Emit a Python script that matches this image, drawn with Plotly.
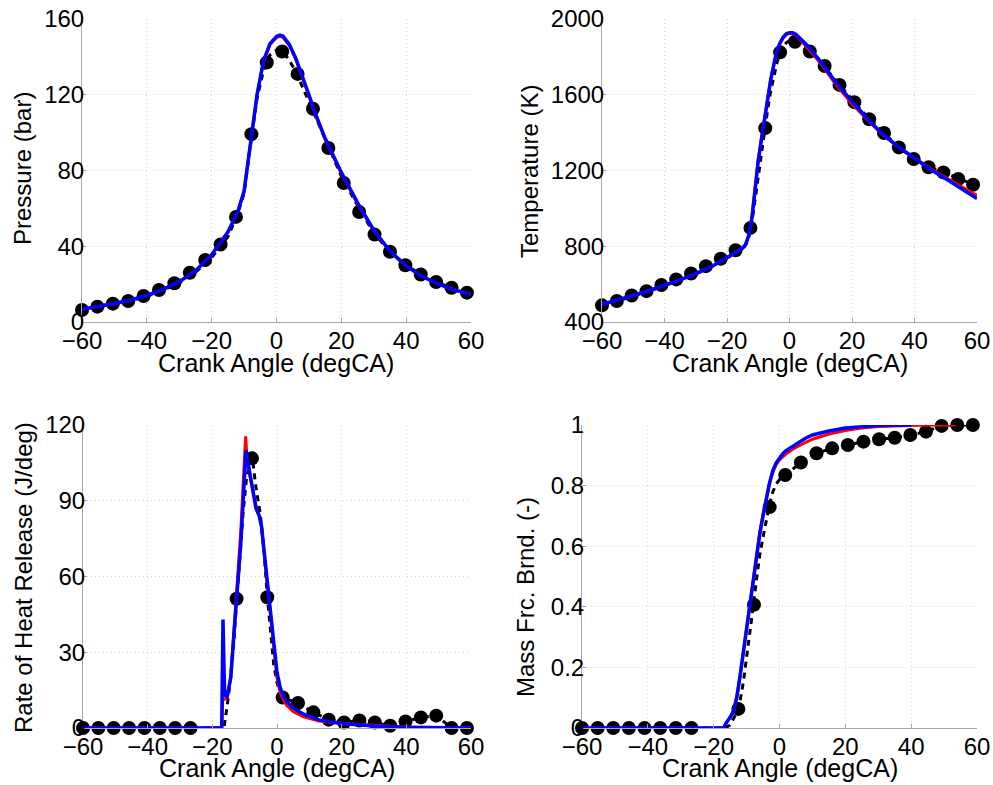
import plotly.graph_objects as go

# ---------------- data ----------------
# experimental sample points (markers)
exp_ca = [-60, -55.25, -50.5, -45.75, -41, -36.25, -31.5, -26.75, -22, -17.25, -12.5, -7.75, -3,
          1.75, 6.5, 11.25, 16, 20.75, 25.5, 30.25, 35, 39.75, 44.5, 49.25, 54, 58.75]
exp_p = [6.3, 8.1, 9.7, 11.1, 13.7, 16.9, 20.5, 26.0, 32.7, 40.9, 55.5, 99.2, 137.0,
         142.8, 131.0, 112.6, 91.9, 73.4, 58.1, 46.2, 37.1, 30.0, 25.1, 21.1, 18.1, 15.5]
exp_t = [488, 511, 540, 563, 595, 625, 656, 695, 734, 779, 897, 1424, 1824,
         1880, 1828, 1752, 1652, 1561, 1471, 1398, 1322, 1261, 1217, 1190, 1155, 1125]
exp_hrr = [0, 0, 0, 0, 0, 0, 0, 0, None, None, 51.2, 106.8, 51.8,
           12.1, 9.9, 6.2, 3.3, 2.2, 3.0, 2.2, 0.9, 2.6, 4.2, 4.9, 0, 0]
exp_mfb = [0, 0, 0, 0, 0, 0, 0, 0, None, None, 0.063, 0.407, 0.729,
           0.835, 0.876, 0.907, 0.923, 0.934, 0.945, 0.953, 0.958, 0.967, 0.978, 0.997, 1.0, 1.0]

# pressure curves
p_ca = [-60, -55, -50, -45, -40, -35, -30, -25, -20, -15, -12, -10, -8, -6, -4, -2, 0, 1, 2, 4, 6, 8,
        10, 12, 15, 20, 25, 30, 35, 40, 45, 50, 55, 60]
p_exp_line = [6.3, 8.0, 9.6, 11.3, 13.5, 16.8, 20.8, 26.2, 34.0, 45.0, 57, 68, 94, 118, 133, 141, 143.5,
              143.8, 143, 138, 132, 124, 116, 108, 96, 77, 61.5, 47, 37, 30, 24.6, 20.6, 17.6, 15.2]
p_red = [6.7, 8.1, 9.8, 11.6, 14.0, 17.2, 21.3, 27.0, 35.5, 47.5, 58, 69, 95, 120, 137.5, 146.5, 150.2,
         150.8, 150.3, 146, 138.5, 129.5, 119.5, 109.5, 96.5, 78.5, 62.5, 48.3, 37.4, 29.5, 24, 20, 16.9, 14.8]
p_blue = [6.7, 8.1, 9.8, 11.6, 14.0, 17.2, 21.3, 27.0, 35.5, 47.5, 58, 69, 95, 120, 138, 147, 150.8,
          151.5, 151, 146.5, 139, 130, 120, 110, 97, 79, 63, 48.5, 37.5, 29.5, 24, 20, 16.8, 14.6]

# temperature curves
t_ca = [-60, -55, -50, -45, -40, -35, -30, -25, -20, -15, -14, -13, -12, -11, -10, -9, -8, -7, -6, -5,
        -4, -3, -2, -1, 0, 1, 2, 4, 6, 8, 10, 15, 20, 25, 30, 35, 40, 45, 50, 55, 60]
t_exp_line = [486, 510, 537, 562, 592, 622, 654, 693, 738, 783, 810, 850, 930, 1050, 1180, 1300, 1400,
              1520, 1620, 1700, 1770, 1820, 1855, 1875, 1885, 1885, 1878, 1855, 1835, 1805, 1772,
              1672, 1575, 1480, 1402, 1322, 1260, 1214, 1186, 1150, 1118]
t_red = [493, 515, 540, 565, 593, 622, 655, 692, 740, 790, 810, 860, 960, 1130, 1260, 1370, 1475, 1575,
         1680, 1760, 1832, 1872, 1900, 1918, 1924, 1923, 1916, 1880, 1845, 1805, 1765, 1650, 1553,
         1465, 1385, 1322, 1266, 1212, 1163, 1115, 1068]
t_blue = [493, 515, 540, 565, 593, 622, 655, 692, 740, 790, 810, 860, 950, 1120, 1250, 1360, 1470, 1570,
          1680, 1760, 1835, 1875, 1905, 1922, 1928, 1928, 1920, 1888, 1855, 1815, 1775, 1660, 1563,
          1472, 1389, 1323, 1265, 1207, 1156, 1105, 1052]

# heat release rate curves
hrr_exp_ca = [-60, -16.4, -15.5, -14.5, -13.5, -12.5, -11.5, -10.5, -9.5, -8.5, -7.6, -6.6, -5.2, -4, -3,
              -2, -1, 0, 1, 1.75, 6.5, 11.25, 16, 20.75, 25.5, 30.25, 35, 39.75, 44.5, 49.25, 54, 58.75]
hrr_exp_line = [0, 0, 8, 18, 32, 51, 68, 85, 98, 105, 107, 96, 85, 70, 52, 38, 25, 18, 14, 12, 9.9, 6.2,
                3.3, 2.2, 3.0, 2.2, 0.9, 2.6, 4.2, 4.9, 0, 0]
hrr_red_ca = [-60, -17.1, -16.8, -15.5, -14.3, -13.3, -12.3, -11.2, -10.2, -9.7, -9.2, -8, -6.5, -5.5,
              -4.8, -3, -2, -1, 0, 1, 2, 3, 5, 8, 13, 20, 30, 40, 50, 60]
hrr_red = [0, 0, 11, 12, 20, 38, 55, 78, 103, 115.5, 105, 97, 88, 84, 80, 57, 44, 31, 20, 14, 11, 9,
           6.5, 4.5, 2.8, 1.8, 1.1, 0.4, 0.1, 0]
hrr_blue_ca = [-60, -17.1, -16.7, -16.2, -15.4, -14.3, -13.3, -12.3, -11.2, -10.2, -9.6, -8, -6.5, -5.5,
               -4.8, -3, -2, -1, 0, 1, 2, 3, 5, 8, 13, 20, 30, 40, 50, 60]
hrr_blue = [0, 0, 43, 13, 12.5, 20, 37.6, 53, 73, 96, 110, 98, 87, 84, 80, 58, 46, 33, 22, 16, 12.5,
            10.5, 8, 5.6, 3.2, 1.8, 0.8, 0.3, 0.1, 0]

# mass fraction burned curves
mfb_exp_ca = [-60, -16.5, -15, -14, -13, -12.4, -11, -10, -9, -8, -7, -6, -5, -4, -3, -2, -1, 0, 1.75,
              6.5, 11.25, 16, 20.75, 25.5, 30.25, 35, 39.75, 44.5, 49.25, 54, 58.75]
mfb_exp_line = [0, 0, 0.01, 0.03, 0.05, 0.063, 0.15, 0.23, 0.31, 0.40, 0.49, 0.57, 0.63, 0.69, 0.74,
                0.78, 0.805, 0.82, 0.835, 0.876, 0.907, 0.923, 0.934, 0.945, 0.953, 0.958, 0.967,
                0.978, 0.997, 1.0, 1.0]
mfb_red_ca = [-60, -17, -16, -15, -14, -13, -12, -11, -10, -9, -8, -7, -6, -5, -4, -3, -2, -1, 0, 2, 4,
              6, 8, 10, 15, 20, 25, 30, 40, 45, 53.5]
mfb_red = [0, 0, 0.02, 0.035, 0.055, 0.10, 0.17, 0.25, 0.335, 0.415, 0.495, 0.575, 0.645, 0.705, 0.76,
           0.81, 0.845, 0.87, 0.885, 0.905, 0.92, 0.932, 0.943, 0.953, 0.97, 0.982, 0.99, 0.995,
           0.999, 1.0, 1.0]
mfb_blue_ca = [-60, -17, -16, -15, -14, -13, -12, -11, -10, -9, -8, -7, -6, -5, -4, -3, -2, -1, 0, 1, 2,
               4, 6, 8, 10, 15, 20, 25, 30, 35, 40]
mfb_blue = [0, 0, 0.02, 0.035, 0.055, 0.10, 0.17, 0.25, 0.33, 0.41, 0.49, 0.57, 0.64, 0.70, 0.76, 0.81,
            0.85, 0.875, 0.89, 0.905, 0.915, 0.93, 0.945, 0.957, 0.967, 0.98, 0.99, 0.995, 0.998,
            0.999, 1.0]

x_ticks = [-60, -40, -20, 0, 20, 40, 60]
p_ticks = [0, 40, 80, 120, 160]
t_ticks = [400, 800, 1200, 1600, 2000]
hrr_ticks = [0, 30, 60, 90, 120]
mfb_ticks = [0, 0.2, 0.4, 0.6, 0.8, 1]
mfb_ticktext = ["0", "0.2", "0.4", "0.6", "0.8", "1"]

x_title = "Crank Angle (degCA)"
y_titles = ["Pressure (bar)", "Temperature (K)", "Rate of Heat Release (J/deg)", "Mass Frc. Brnd. (-)"]

# ---------------- figure ----------------
W, H = 993, 785
FONT = "Liberation Sans, Arial, Helvetica, sans-serif"
FS_TICK = 24
FS_XTITLE = 25
FS_YTITLE = 24

fig = go.Figure()

panels = [
    ("x", "y", exp_p, p_ca, p_exp_line, p_ca, p_red, p_ca, p_blue),
    ("x2", "y2", exp_t, t_ca, t_exp_line, t_ca, t_red, t_ca, t_blue),
    ("x3", "y3", exp_hrr, hrr_exp_ca, hrr_exp_line, hrr_red_ca, hrr_red, hrr_blue_ca, hrr_blue),
    ("x4", "y4", exp_mfb, mfb_exp_ca, mfb_exp_line, mfb_red_ca, mfb_red, mfb_blue_ca, mfb_blue),
]

for xa, ya, ey, lx, ly, rx, ry, bx, by in panels:
    fig.add_trace(go.Scatter(x=exp_ca, y=ey, mode="markers", xaxis=xa, yaxis=ya,
                             marker=dict(color="black", size=14), cliponaxis=False,
                             showlegend=False))
    fig.add_trace(go.Scatter(x=lx, y=ly, mode="lines", xaxis=xa, yaxis=ya,
                             line=dict(color="black", width=3, dash="6px,5px"),
                             cliponaxis=False, showlegend=False))
    fig.add_trace(go.Scatter(x=rx, y=ry, mode="lines", xaxis=xa, yaxis=ya,
                             line=dict(color="#ff0000", width=3), cliponaxis=False,
                             showlegend=False))
    fig.add_trace(go.Scatter(x=bx, y=by, mode="lines", xaxis=xa, yaxis=ya,
                             line=dict(color="#0000ff", width=3.5), cliponaxis=False,
                             showlegend=False))

def px2fx(px):
    return px / W

def py2fy(py):
    return 1 - py / H

# plot-area pixel boxes (left, right, top, bottom)
boxes = {
    1: (82, 471, 19, 322),
    2: (602, 977, 19, 322),
    3: (83, 471, 425, 728),
    4: (582, 977, 425, 728),
}

axis_common = dict(
    showline=True, linecolor="#a6a6a6", linewidth=1, mirror=False,
    showgrid=True, gridcolor="#d4d4d4", griddash="1px,3px", gridwidth=1,
    zeroline=False, ticks="inside", ticklen=4, tickcolor="#a6a6a6",
    tickfont=dict(family=FONT, size=FS_TICK, color="black"), automargin=False,
    ticklabeloverflow="allow",
)

yranges = {1: [0, 160], 2: [400, 2000], 3: [0, 120], 4: [0, 1]}
yticks = {1: p_ticks, 2: t_ticks, 3: hrr_ticks, 4: mfb_ticks}

layout = dict(
    width=W, height=H, margin=dict(l=0, r=0, t=0, b=0, autoexpand=False),
    paper_bgcolor="white", plot_bgcolor="white", showlegend=False,
)
for i in range(1, 5):
    l, r, t, b = boxes[i]
    xk = "xaxis" if i == 1 else f"xaxis{i}"
    yk = "yaxis" if i == 1 else f"yaxis{i}"
    xname = "x" if i == 1 else f"x{i}"
    yname = "y" if i == 1 else f"y{i}"
    layout[xk] = dict(axis_common, domain=[px2fx(l), px2fx(r)], range=[-60, 60],
                      tickvals=x_ticks, anchor=yname, ticklabelstandoff=-3)
    ydict = dict(axis_common, domain=[py2fy(b), py2fy(t)], range=yranges[i],
                 tickvals=yticks[i], anchor=xname, ticklabelstandoff=-8)
    if i == 4:
        ydict["ticktext"] = mfb_ticktext
    layout[yk] = ydict

fig.update_layout(**layout)

# axis titles as annotations (pixel positions)
xt_pos = [(276, 363), (790, 363), (277, 768), (780, 768)]
yt_pos = [(23, 169), (530, 172), (23, 578), (525, 597)]
for i in range(4):
    fig.add_annotation(text=x_title, x=px2fx(xt_pos[i][0]), y=py2fy(xt_pos[i][1]),
                       xref="paper", yref="paper", showarrow=False,
                       xanchor="center", yanchor="middle",
                       font=dict(family=FONT, size=FS_XTITLE, color="black"))
    fig.add_annotation(text=y_titles[i], x=px2fx(yt_pos[i][0]), y=py2fy(yt_pos[i][1]),
                       xref="paper", yref="paper", showarrow=False, textangle=-90,
                       xanchor="center", yanchor="middle",
                       font=dict(family=FONT, size=FS_YTITLE, color="black"))

# remove the default page margin so the figure fills the window exactly; hide the modebar
fig.write_html("out.html",
               config={"displayModeBar": False},
               post_script="document.body.style.margin='0px';document.body.style.overflow='hidden';")
